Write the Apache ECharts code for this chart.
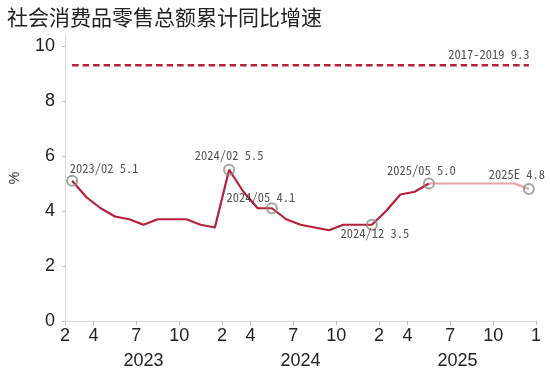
<!DOCTYPE html>
<html><head><meta charset="utf-8">
<script src="https://cdn.jsdelivr.net/npm/echarts@6/dist/echarts.min.js"></script>
<style>html,body{margin:0;padding:0;background:#fff}#c{width:550px;height:370px}</style>
</head><body><div id="c"></div>
<script>
const titleText = '社会消费品零售总额累计同比增速';
const months = [
  '2023/02','2023/03','2023/04','2023/05','2023/06','2023/07','2023/08','2023/09','2023/10','2023/11','2023/12',
  '2024/02','2024/03','2024/04','2024/05','2024/06','2024/07','2024/08','2024/09','2024/10','2024/11','2024/12',
  '2025/02','2025/03','2025/04','2025/05','2025/06','2025/07','2025/08','2025/09','2025/10','2025/11','2025/12'
];
const actualMonths = months.slice(0, 26);
const actualValues = [5.1,4.5,4.1,3.8,3.7,3.5,3.7,3.7,3.7,3.5,3.4,
                      5.5,4.7,4.1,4.1,3.7,3.5,3.4,3.3,3.5,3.5,3.5,
                      4.0,4.6,4.7,5.0];
const forecastMonths = ['2025/05','2025/06','2025/07','2025/08','2025/09','2025/10','2025/11','2025/12'];
const forecastValues = [5.0,5.0,5.0,5.0,5.0,5.0,5.0,4.8];
const benchmarkValue = 9.3;
const benchmarkText = '2017-2019 9.3';
const annotMonths = ['2023/02','2024/02','2024/05','2024/12','2025/05','2025/12'];
const annotValues = [5.1,5.5,4.1,3.5,5.0,4.8];
const annotTexts = ['2023/02 5.1','2024/02 5.5','2024/05 4.1','2024/12 3.5','2025/05 5.0','2025E 4.8'];
const xTickPos = [0,2,5,8,11,13,16,19,22,24,27,30,33];
const xTickLabels = ['2','4','7','10','2','4','7','10','2','4','7','10','1'];
const yearPos = [5.5,16.5,27.5];
const yearLabels = ['2023','2024','2025'];
const yTicks = [0,2,4,6,8,10];

// label placement (style, not data)
const annotOffsets = [[32,-12.5],[0,-14.5],[-11,-11.5],[3,8],[-7.5,-13.5],[-12,-14.5]];

const xOf = m => months.indexOf(m) + 0.5;
const RED = '#b5203a', PINK = '#e9a2aa';
const labelFont = "'Noto Sans Mono CJK SC','Liberation Mono',monospace";

const chart = echarts.init(document.getElementById('c'));
chart.setOption({
  animation: false,
  backgroundColor: '#fff',
  title: { text: titleText, left: 2, top: 2,
    textStyle: { fontFamily: "'Noto Sans CJK SC'", fontSize: 21, fontWeight: 'normal', color: '#222' } },
  grid: { left: 62, right: 14, top: 35, bottom: 49 },
  xAxis: [{
    type: 'value', min: 0, max: 33,
    axisLine: { show: true, lineStyle: { color: '#d9d9d9', width: 1 } },
    axisTick: { show: true, customValues: xTickPos, length: 4, lineStyle: { color: '#bfbfbf' } },
    axisLabel: { customValues: xTickPos, formatter: v => xTickLabels[xTickPos.indexOf(Math.round(v))],
      fontFamily: 'Liberation Sans', fontSize: 18, color: '#222', margin: 6 },
    splitLine: { show: false }
  }, {
    type: 'value', min: 0, max: 33, position: 'bottom',
    axisLine: { show: false }, axisTick: { show: false },
    axisLabel: { customValues: yearPos, formatter: v => yearLabels[yearPos.indexOf(v)],
      fontFamily: 'Liberation Sans', fontSize: 18, color: '#222', margin: 31 },
    splitLine: { show: false }
  }],
  yAxis: {
    type: 'value', min: 0, max: 10.4,
    name: '%', nameLocation: 'middle', nameGap: 43,
    nameTextStyle: { fontFamily: 'Liberation Sans', fontSize: 14, color: '#333' },
    axisLine: { show: true, lineStyle: { color: '#d9d9d9', width: 1 } },
    axisTick: { show: true, customValues: yTicks, length: 3, lineStyle: { color: '#bfbfbf' } },
    axisLabel: { customValues: yTicks, fontFamily: 'Liberation Sans', fontSize: 18, color: '#222', margin: 10 },
    splitLine: { show: false }
  },
  series: [
    { type: 'line', data: [[xOf(months[0]), benchmarkValue], [xOf(months[months.length-1]), benchmarkValue]],
      symbol: 'none', lineStyle: { color: RED, width: 2.5, type: [6.5, 4] }, z: 2 },
    { type: 'line', data: forecastMonths.map((m, i) => [xOf(m), forecastValues[i]]),
      symbol: 'none', lineStyle: { color: PINK, width: 2 }, z: 3 },
    { type: 'line', data: actualMonths.map((m, i) => [xOf(m), actualValues[i]]),
      symbol: 'none', lineStyle: { color: RED, width: 2.2 }, z: 4 },
    { type: 'scatter', z: 5, symbol: 'circle', symbolSize: 10,
      itemStyle: { color: 'rgba(0,0,0,0)', borderColor: '#8c8c8c', borderWidth: 2 },
      data: annotMonths.map((m, i) => ({
        value: [xOf(m), annotValues[i]],
        label: { show: true, position: 'inside', formatter: annotTexts[i], offset: annotOffsets[i],
          fontFamily: labelFont, fontSize: 12.5, color: '#2a2a2a' }
      }))
    },
    { type: 'scatter', z: 5, symbolSize: 0, silent: true,
      data: [{ value: [xOf(months[months.length-1]), benchmarkValue],
        label: { show: true, position: 'inside', formatter: benchmarkText, offset: [-40, -11],
          fontFamily: labelFont, fontSize: 12.5, color: '#2a2a2a' } }]
    }
  ]
});
</script></body></html>
